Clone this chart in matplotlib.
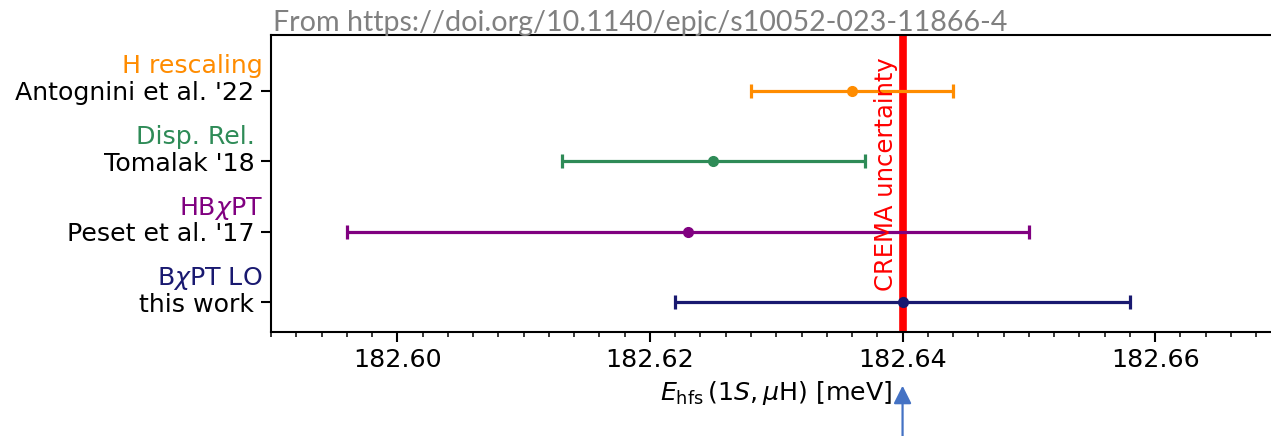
import matplotlib
matplotlib.use("Agg")
import matplotlib.pyplot as plt
import matplotlib.transforms as mtransforms
from matplotlib.ticker import MultipleLocator, FormatStrFormatter

# ---- data ----
methods = ["H rescaling", "Disp. Rel. ", r"HB$\chi$PT", r"B$\chi$PT LO"]
names = ["Antognini et al. '22", "Tomalak '18", "Peset et al. '17", "this work"]
values = [182.636, 182.625, 182.623, 182.640]
errors = [0.008, 0.012, 0.027, 0.018]
colors = ["#FF8C00", "#2E8B57", "#800080", "#191970"]
ypos = [3, 2, 1, 0]
crema_value = 182.640
xlim = (182.590, 182.670)
xticks = [182.60, 182.62, 182.64, 182.66]

FS = 18.2
W, H, DPI = 1271, 436, 100
fig = plt.figure(figsize=(W / DPI, H / DPI), dpi=DPI)
ax = fig.add_axes([271 / W, (H - 331.7) / H, (1281.5 - 271) / W, (331.7 - 35.3) / H])

ax.axvline(crema_value, color="red", lw=5.5, zorder=2)
for v, e, y, c in zip(values, errors, ypos, colors):
    ax.errorbar(v, y, xerr=e, fmt="o", color=c, ms=7, elinewidth=2.3,
                capsize=5, capthick=2.3, zorder=3)

ax.set_xlim(*xlim)
ax.set_ylim(-0.417, 3.786)
ax.set_xticks(xticks)
ax.xaxis.set_major_formatter(FormatStrFormatter("%.2f"))
ax.xaxis.set_minor_locator(MultipleLocator(0.002))
ax.set_yticks(ypos)
ax.set_yticklabels(names)
ax.tick_params(axis="both", which="major", labelsize=FS, length=7, width=1.5,
               direction="out", pad=5)
ax.tick_params(axis="x", which="minor", length=3.5, width=1.1, direction="out")
ax.tick_params(axis="y", which="minor", left=False)
for s in ax.spines.values():
    s.set_linewidth(1.5)

# colored method labels above the tick labels
trans = ax.get_yaxis_transform() + mtransforms.ScaledTranslation(-6 / 72, 19.4 / 72, fig.dpi_scale_trans)
for m, y, c in zip(methods, ypos, colors):
    ax.text(0, y, m, transform=trans, ha="right", va="center_baseline",
            fontsize=FS, color=c, clip_on=False)

# CREMA text
ttrans = ax.get_xaxis_transform() + mtransforms.ScaledTranslation(-3.2 / 72, 0, fig.dpi_scale_trans)
ax.text(crema_value, 0.532, "CREMA uncertainty", rotation=90, color="red",
        fontsize=17.5, ha="right", va="center", transform=ttrans)

ax.set_xlabel(r"$E_{\rm hfs}\,(1S,\mu{\rm H})$ [meV]", fontsize=FS, labelpad=5)

# arrow pointing at the CREMA value
atrans = mtransforms.blended_transform_factory(ax.transData, fig.transFigure)
ax.annotate("", xy=(crema_value, (H - 385.7) / H), xycoords=atrans,
            xytext=(crema_value, -0.01), textcoords=atrans,
            arrowprops=dict(arrowstyle="-|>,head_length=0.4,head_width=0.2",
                            color="#4472C4", lw=1.6, mutation_scale=27,
                            shrinkA=0, shrinkB=0),
            annotation_clip=False)

# source note
src = fig.text(640 / W, (H - 30.7) / H, "From https://doi.org/10.1140/epjc/s10052-023-11866-4",
               ha="center", va="baseline", color="#808080", fontsize=20, family="Lato")
fig.canvas.draw()
wpx = src.get_window_extent().width
src.set_fontsize(20 * 734 / wpx)

fig.savefig("out.png", dpi=DPI)
